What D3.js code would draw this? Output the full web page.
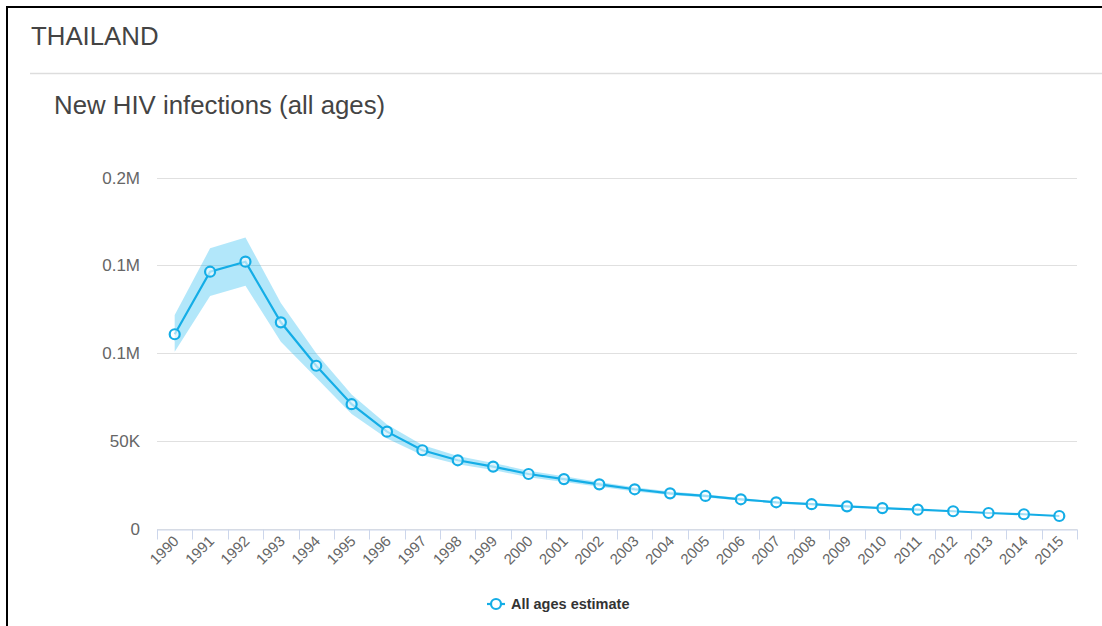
<!DOCTYPE html>
<html>
<head>
<meta charset="utf-8">
<script src="https://d3js.org/d3.v7.min.js"></script>
<style>
  body { margin: 0; background: #fff; }
  #chart { width: 1102px; height: 626px; }
  text { font-family: "Liberation Sans", Arial, sans-serif; }
</style>
</head>
<body>
<div id="chart"></div>
<script>
// values (thousands of new infections)
const years = ["1990","1991","1992","1993","1994","1995","1996","1997","1998","1999","2000","2001","2002",
               "2003","2004","2005","2006","2007","2008","2009","2010","2011","2012","2013","2014","2015"];
const estimate = [110.8, 146.4, 152.1, 117.6, 92.9, 71.0, 55.4, 44.8, 39.1, 35.5, 31.3, 28.4, 25.4,
                  22.6, 20.3, 18.8, 16.9, 15.2, 14.1, 12.9, 11.9, 11.0, 10.1, 9.1, 8.4, 7.4];
const upper = [121.8, 159.7, 165.9, 128.6, 100.0, 76.5, 59.5, 47.8, 41.6, 37.6, 33.2, 30.0, 26.8,
               23.8, 21.3, 19.7, 17.6, 15.8, 14.6, 13.3, 12.3, 11.3, 10.4, 9.4, 8.6, 7.6];
const lower = [100.9, 132.6, 138.4, 106.6, 86.0, 65.5, 51.5, 42.0, 36.8, 33.5, 29.5, 26.8, 24.0,
               21.4, 19.3, 17.9, 16.2, 14.6, 13.6, 12.5, 11.5, 10.7, 9.8, 8.8, 8.2, 7.2];
const yTicks = [0, 50, 100, 150, 200];
const yTickLabels = ["0", "50K", "0.1M", "0.1M", "0.2M"];

const W = 1102, H = 626;
const svg = d3.select("#chart").append("svg").attr("width", W).attr("height", H);

// frame lines (left + top only)
svg.append("line").attr("x1", 7).attr("x2", W).attr("y1", 7).attr("y2", 7)
  .attr("stroke", "#000").attr("stroke-width", 2);
svg.append("line").attr("x1", 7).attr("x2", 7).attr("y1", 6).attr("y2", H)
  .attr("stroke", "#000").attr("stroke-width", 2);

svg.append("text").attr("x", 31).attr("y", 45).text("THAILAND")
  .attr("font-size", 25.8).attr("fill", "#444");
svg.append("line").attr("x1", 30).attr("x2", W).attr("y1", 73.5).attr("y2", 73.5)
  .attr("stroke", "#ddd").attr("stroke-width", 1.5);
svg.append("text").attr("x", 54).attr("y", 114).text("New HIV infections (all ages)")
  .attr("font-size", 25.8).attr("fill", "#444");

const x = d3.scaleBand().domain(years).range([157, 1077]);
const y = d3.scaleLinear().domain([0, 200]).range([529, 177.5]);
const cx = d => x(d) + x.bandwidth() / 2;

// gridlines + y labels
const grid = svg.append("g");
grid.selectAll("line").data(yTicks).join("line")
  .attr("x1", 157).attr("x2", 1077)
  .attr("y1", d => Math.round(y(d)) + 0.5).attr("y2", d => Math.round(y(d)) + 0.5)
  .attr("stroke", "#e0e0e0");
grid.selectAll("text").data(yTicks).join("text")
  .attr("x", 140).attr("y", d => y(d) + 6)
  .attr("text-anchor", "end").attr("font-size", 17).attr("fill", "#666")
  .text((d, i) => yTickLabels[i]);

// x axis
const xAxis = svg.append("g").attr("transform", "translate(0,529.5)")
  .call(d3.axisBottom(x).tickSize(0).tickFormat(""));
xAxis.select(".domain").attr("stroke", "#ccd6eb");
const bounds = years.map(d => x(d)).concat([x.range()[1]]);
xAxis.selectAll(".bt").data(bounds).join("line").attr("class", "bt")
  .attr("x1", d => Math.round(d) + 0.5).attr("x2", d => Math.round(d) + 0.5)
  .attr("y1", 0).attr("y2", 10).attr("stroke", "#ccd6eb");
svg.append("g").selectAll("text").data(years).join("text")
  .attr("transform", d => `translate(${cx(d) + 5},${542}) rotate(-45)`)
  .attr("text-anchor", "end").attr("font-size", 15).attr("fill", "#666")
  .text(d => d);

// range band
const rows = years.map((d, i) => ({ year: d, v: estimate[i], hi: upper[i], lo: lower[i] }));
svg.append("path").datum(rows)
  .attr("d", d3.area().x(d => cx(d.year)).y0(d => y(d.lo)).y1(d => y(d.hi)))
  .attr("fill", "#00aeef").attr("fill-opacity", 0.3);

// estimate line + markers
svg.append("path").datum(rows)
  .attr("d", d3.line().x(d => cx(d.year)).y(d => y(d.v)))
  .attr("fill", "none").attr("stroke", "#14ade6").attr("stroke-width", 2.2);
svg.append("g").selectAll("circle").data(rows).join("circle")
  .attr("cx", d => cx(d.year)).attr("cy", d => y(d.v)).attr("r", 5)
  .attr("fill", "#fff").attr("fill-opacity", 0.6)
  .attr("stroke", "#14ade6").attr("stroke-width", 2.2);

// legend
const lg = svg.append("g").attr("transform", "translate(487,604)");
lg.append("line").attr("x1", 0).attr("x2", 18).attr("y1", 0).attr("y2", 0)
  .attr("stroke", "#14ade6").attr("stroke-width", 2.2);
lg.append("circle").attr("cx", 9).attr("cy", 0).attr("r", 5)
  .attr("fill", "#fff").attr("stroke", "#14ade6").attr("stroke-width", 2.2);
lg.append("text").attr("x", 24).attr("y", 5).text("All ages estimate")
  .attr("font-size", 14.5).attr("font-weight", "bold").attr("fill", "#333");
</script>
</body>
</html>
